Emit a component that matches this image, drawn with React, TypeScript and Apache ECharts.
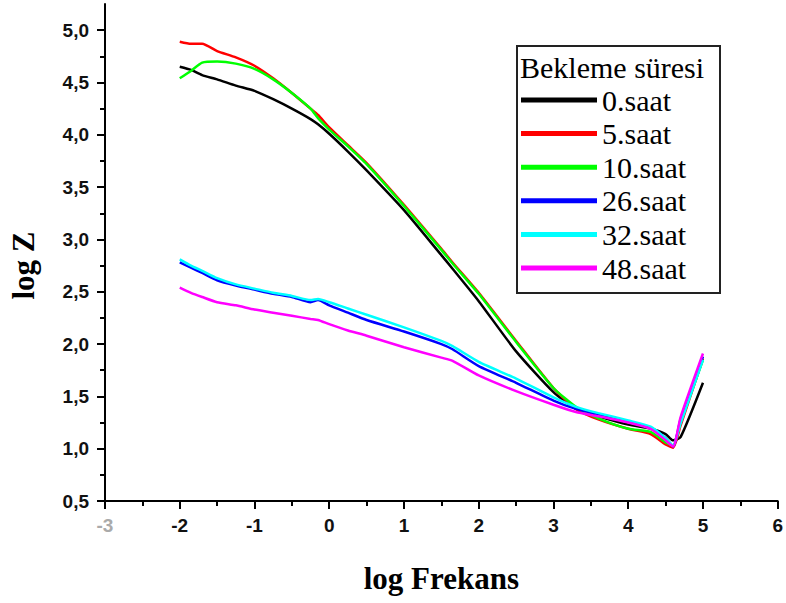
import React, { useEffect, useRef } from "react";
import * as echarts from "echarts";

// log Frekans sample points (shared by all series)
const logF = [-2, -1.85, -1.7, -1.5, -1.25, -1, -0.75, -0.5, -0.25, -0.15, 0, 0.25, 0.5, 1, 1.5, 1.65, 2, 2.5, 3, 3.3, 3.6, 4, 4.3, 4.5, 4.6, 4.7, 5];

const saat0 = [4.65, 4.62, 4.57, 4.53, 4.47, 4.42, 4.34, 4.25, 4.15, 4.1, 4.01, 3.84, 3.66, 3.28, 2.85, 2.72, 2.41, 1.93, 1.54, 1.38, 1.31, 1.23, 1.19, 1.14, 1.08, 1.11, 1.63];
const saat5 = [4.89, 4.87, 4.87, 4.8, 4.74, 4.66, 4.54, 4.4, 4.25, 4.19, 4.07, 3.9, 3.73, 3.33, 2.91, 2.78, 2.49, 2.03, 1.58, 1.38, 1.28, 1.19, 1.14, 1.04, 1.01, 1.22, 1.86];
const saat10 = [4.54, 4.61, 4.69, 4.7, 4.68, 4.63, 4.53, 4.4, 4.25, 4.16, 4.05, 3.89, 3.72, 3.32, 2.9, 2.77, 2.48, 2.02, 1.58, 1.4, 1.29, 1.19, 1.16, 1.06, 1.03, 1.25, 1.85];
const saat26 = [2.78, 2.73, 2.68, 2.61, 2.56, 2.52, 2.48, 2.45, 2.4, 2.42, 2.37, 2.3, 2.23, 2.12, 2.0, 1.95, 1.79, 1.63, 1.46, 1.38, 1.33, 1.26, 1.2, 1.1, 1.02, 1.28, 1.88];
const saat32 = [2.81, 2.75, 2.7, 2.63, 2.57, 2.53, 2.49, 2.46, 2.42, 2.43, 2.4, 2.34, 2.28, 2.16, 2.03, 1.98, 1.83, 1.67, 1.49, 1.4, 1.34, 1.27, 1.21, 1.1, 1.03, 1.24, 1.85];
const saat48 = [2.54, 2.49, 2.45, 2.4, 2.37, 2.33, 2.3, 2.27, 2.24, 2.23, 2.19, 2.13, 2.08, 1.97, 1.87, 1.84, 1.7, 1.55, 1.42, 1.35, 1.31, 1.25, 1.19, 1.08, 1.02, 1.3, 1.91];

const seriesNames = ["0.saat", "5.saat", "10.saat", "26.saat", "32.saat", "48.saat"];
const seriesValues = [saat0, saat5, saat10, saat26, saat32, saat48];
const seriesColors = ["#000000", "#ff0000", "#00ff00", "#0000ff", "#00ffff", "#ff00ff"];

const yMajorTicks = [0.5, 1.0, 1.5, 2.0, 2.5, 3.0, 3.5, 4.0, 4.5, 5.0];
const yMinorTicks = [0.75, 1.25, 1.75, 2.25, 2.75, 3.25, 3.75, 4.25, 4.75];

const legendTitle = "Bekleme süresi";
const xTitle = "log Frekans";
const yTitle = "log Z";

const SERIF = "Liberation Serif";

export default function App() {
  const ref = useRef<HTMLDivElement>(null);
  useEffect(() => {
    if (!ref.current) return;
    const chart = echarts.init(ref.current, null, { renderer: "svg" });
    const tickFont = {
      fontFamily: "Liberation Sans",
      fontWeight: "bold" as const,
      fontSize: 19,
      color: "#111",
    };
    chart.setOption({
      animation: false,
      backgroundColor: "#ffffff",
      grid: { left: 105, right: 6, top: 4, bottom: 102 },
      xAxis: {
        type: "value",
        min: -3,
        max: 6,
        interval: 1,
        name: xTitle,
        nameLocation: "middle",
        nameGap: 62,
        nameTextStyle: {
          fontFamily: SERIF,
          fontWeight: "bold",
          fontSize: 31,
          color: "#000",
        },
        axisLine: { onZero: false, lineStyle: { color: "#000", width: 2 } },
        axisTick: { show: true, length: 8, lineStyle: { color: "#000", width: 2 } },
        minorTick: { show: true, splitNumber: 2, length: 5, lineStyle: { color: "#000", width: 2 } },
        splitLine: { show: false },
        axisLabel: {
          ...tickFont,
          margin: 15,
          formatter: (v: number) => (v === -3 ? "{f|-3}" : String(v)),
          rich: { f: { ...tickFont, color: "#aaa" } },
        },
      },
      yAxis: [
        {
          type: "value",
          min: 0.5,
          max: 5.25,
          interval: 0.5,
          name: yTitle,
          nameLocation: "middle",
          nameGap: 66,
          nameTextStyle: {
            fontFamily: SERIF,
            fontWeight: "bold",
            fontSize: 31,
            color: "#000",
            padding: [0, 26, 0, 0],
          },
          axisLine: { onZero: false, lineStyle: { color: "#000", width: 2 } },
          axisTick: { show: true, length: 8, customValues: yMajorTicks, lineStyle: { color: "#000", width: 2 } },
          splitLine: { show: false },
          axisLabel: {
            ...tickFont,
            margin: 16,
            customValues: yMajorTicks,
            formatter: (v: number) => v.toFixed(1).replace(".", ","),
          },
        },
        {
          type: "value",
          min: 0.5,
          max: 5.25,
          interval: 0.5,
          position: "left",
          offset: 0,
          axisLine: { show: false, onZero: false },
          axisTick: { show: true, length: 5, customValues: yMinorTicks, lineStyle: { color: "#000", width: 2 } },
          axisLabel: { show: false },
          splitLine: { show: false },
        },
      ],
      legend: {
        orient: "vertical",
        left: 521,
        top: 85,
        padding: 0,
        icon: "rect",
        itemWidth: 76,
        itemHeight: 5,
        itemGap: 3.6,
        textStyle: {
          fontFamily: SERIF,
          fontSize: 30,
          lineHeight: 30,
          color: "#000",
        },
        data: seriesNames,
      },
      graphic: [
        {
          type: "rect",
          shape: { x: 517, y: 46, width: 203, height: 247 },
          style: { fill: "none", stroke: "#222", lineWidth: 2 },
          z: 1,
        },
        {
          type: "text",
          x: 520,
          y: 67,
          style: {
            text: legendTitle,
            fontFamily: SERIF,
            fontSize: 30,
            fill: "#000",
            verticalAlign: "middle",
          },
        },
      ],
      series: seriesNames.map((name, i) => ({
        name,
        type: "line",
        symbol: "none",
        yAxisIndex: 0,
        smooth: 0.2,
        lineStyle: { color: seriesColors[i], width: 2.5 },
        itemStyle: { color: seriesColors[i] },
        data: logF.map((x, j) => [x, seriesValues[i][j]]),
      })),
    });
    return () => chart.dispose();
  }, []);
  return <div ref={ref} style={{ width: 786, height: 603, position: "absolute", left: 0, top: 0 }} />;
}
